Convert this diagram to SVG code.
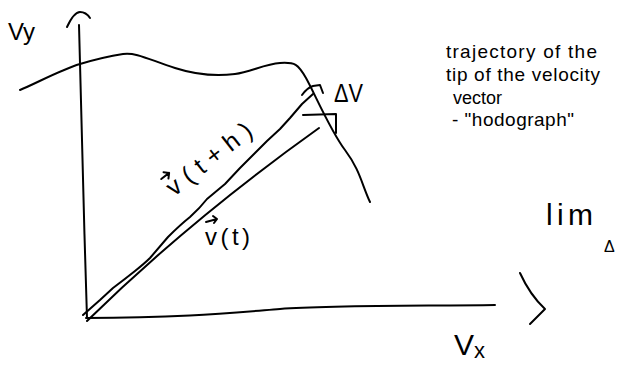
<svg xmlns="http://www.w3.org/2000/svg" width="621" height="366" viewBox="0 0 621 366">
<style>
.s{fill:none;stroke:#000;stroke-width:2;stroke-linecap:round;stroke-linejoin:round}
.t{font-family:"Liberation Sans",Arial,sans-serif;fill:#000}
</style>
<rect x="0" y="0" width="621" height="366" fill="#fff"/>
<g id="axes">
<path class="s" d="M79,25 C81,120 84,220 87,318"/>
<path class="s" d="M67,27 Q74,12 80,12 Q86,12 90,18"/>
<path class="s" d="M86,318 C180,318 230,313 280,309 S420,306 495,305"/>
<text class="t" x="8" y="40" font-size="24">Vy</text>
<text class="t" x="454" y="355" font-size="30">V<tspan font-size="22" dy="3">x</tspan></text>
</g>
<g id="hodograph">
<path class="s" d="M20,90 C35,84 60,70 80,64 S110,56 123,54 S150,60 175,68 S220,76 235,74 S265,64 280,63 S298,64 306,78 S330,130 345,150 S362,185 370,202"/>
</g>
<g id="connectors">
<path id="v-t-h" class="s" d="M83,315 L100,300 L113,288 Q125,279 135,271 Q145,263 150,258 L168,237 Q180,225 190,217 Q200,208 207,199 L225,184 L240,168 L255,153 L267,141 L280,129 L290,118 L302,104 L313,94"/>
<path class="s" d="M302,95 Q307,88 313,86 L320,85 L323,93"/>
<path id="v-t" class="s" d="M87,321 Q190,220 319,128"/>
<path class="s" d="M303,115 L336,114 L336,133"/>
</g>
<g id="label-vth" transform="translate(174,197) rotate(-38)">
<text class="t" x="0" y="0" font-size="25" textLength="102" lengthAdjust="spacing">v(t+h)</text>
<path class="s" stroke-width="1.6" d="M1,-22 L11,-22 M7,-26 L11,-22 L7,-18"/>
</g>
<g id="label-vt">
<text class="t" x="205" y="245" font-size="24" textLength="45" lengthAdjust="spacing">v(t)</text>
<path class="s" stroke-width="1.6" d="M206,222 L217,219 M213,216 L217,219 L214,223"/>
</g>
<g id="label-dv">
<text class="t" x="334" y="102" font-size="26" textLength="29" lengthAdjust="spacingAndGlyphs">ΔV</text>
</g>
<g id="note">
<text class="t" x="446" y="58" font-size="19" textLength="151" lengthAdjust="spacing">trajectory of the</text>
<text class="t" x="446" y="81" font-size="19" textLength="154" lengthAdjust="spacing">tip of the velocity</text>
<text class="t" x="453" y="104" font-size="18">vector</text>
<text class="t" x="452" y="126" font-size="19" textLength="122" lengthAdjust="spacing">- "hodograph"</text>
</g>
<g id="limit">
<text class="t" x="546" y="225" font-size="30" textLength="47" lengthAdjust="spacing">lim</text>
<path class="s" d="M520,273 Q530,295 545,309 L530,324"/>
<text class="t" x="604" y="252" font-size="16">Δ</text>
</g>
</svg>
